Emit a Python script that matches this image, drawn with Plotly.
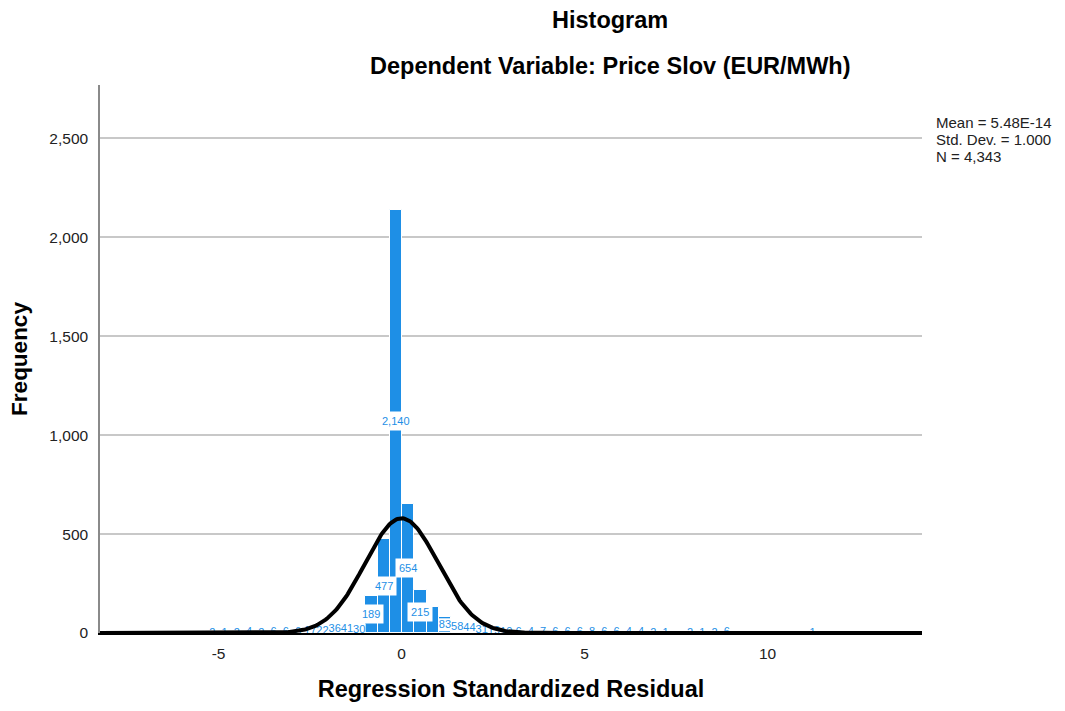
import numpy as np
import plotly.graph_objects as go

# ---- data ----
bin_index = list(range(-16, 34))
bin_width = 0.3347
first_edge = 0.014
counts = [2, 1, 2, 4, 2, 6, 6, 6, 17, 22, 36, 41, 30,
          189, 477, 2140, 654, 215, 133,
          83, 58, 44, 31, 19, 10, 6,
          4, 7, 6, 6, 6, 8, 6, 6, 4, 4, 2, 1, 0, 2, 1, 2, 6,
          0, 0, 0, 0, 0, 0, 1]
hidden_label_bins = [2]          # label overlapped by its neighbour in the original
stat_mean = 5.48e-14
stat_sd = 1.000
stat_n = 4343
x_ticks = [-5, 0, 5, 10]
x_tick_text = ["-5", "0", "5", "10"]
y_ticks = [0, 500, 1000, 1500, 2000, 2500]

centers = [first_edge + (k + 0.5) * bin_width for k in bin_index]

BLUE = "#1E8FE6"
FONT = "Liberation Sans, Arial, sans-serif"

fig = go.Figure()
fig.add_trace(go.Bar(
    x=centers, y=counts, width=bin_width,
    marker=dict(color=BLUE, line=dict(color="white", width=1)),
    hoverinfo="x+y", showlegend=False,
))

# small labels (near the axis) drawn as trace text with white boxes
small_x, small_y, small_t = [], [], []
for k, c, v in zip(bin_index, centers, counts):
    if 0 < v < 100 and k not in hidden_label_bins:
        small_x.append(c)
        small_y.append(v / 2)
        small_t.append(f"{v:,}")
fig.add_trace(go.Scatter(
    x=small_x, y=small_y, text=small_t, mode="markers+text",
    textposition="middle center",
    marker=dict(symbol="square", color="white", size=13, line=dict(width=0)),
    textfont=dict(family=FONT, size=11, color=BLUE),
    showlegend=False, hoverinfo="skip",
))

# normal curve
xs = np.linspace(-8.3, 14.3, 600)
ys = stat_n * bin_width * np.exp(-0.5 * ((xs - stat_mean) / stat_sd) ** 2) / (stat_sd * np.sqrt(2 * np.pi))
fig.add_trace(go.Scatter(x=xs, y=ys, mode="lines",
                         line=dict(color="black", width=4),
                         showlegend=False, hoverinfo="skip"))

# big labels inside bars
for k, c, v in zip(bin_index, centers, counts):
    if v >= 100 and k not in hidden_label_bins:
        fig.add_annotation(x=c, y=v / 2, text=f"{v:,}", showarrow=False,
                           bgcolor="white", borderpad=3,
                           font=dict(family=FONT, size=11, color=BLUE))

TITLE_X = (610 - 100) / 822
fig.add_annotation(xref="paper", yref="paper", x=TITLE_X, y=1.1186, yanchor="middle",
                   text="<b>Histogram</b>",
                   showarrow=False, font=dict(family=FONT, size=23.5, color="black"))
fig.add_annotation(xref="paper", yref="paper", x=TITLE_X, y=1.0347, yanchor="middle",
                   text="<b>Dependent Variable: Price Slov (EUR/MWh)</b>",
                   showarrow=False, font=dict(family=FONT, size=23.5, color="black"))
legend_lines = [f"Mean = 5.48E-14", f"Std. Dev. = {stat_sd:.3f}", f"N = {stat_n:,}"]
for i, line in enumerate(legend_lines):
    fig.add_annotation(xref="paper", yref="paper", x=1.0146, y=1 - (122 - 85 + 17 * i) / 548,
                       xanchor="left", yanchor="middle", align="left",
                       text=line, showarrow=False,
                       font=dict(family=FONT, size=15, color="#222"))

fig.update_layout(
    width=1065, height=711,
    margin=dict(l=100, r=143, t=85, b=78),
    paper_bgcolor="white", plot_bgcolor="white",
    bargap=0,
    font=dict(family=FONT, color="#333"),
    xaxis=dict(range=[-8.24, 14.22], tickvals=x_ticks, ticktext=x_tick_text,
               showgrid=False, zeroline=False,
               showline=True, linecolor="black", linewidth=2, ticks="",
               ticklabelstandoff=5,
               tickfont=dict(size=15.5, color="#222"),
               title=dict(text="<b>Regression Standardized Residual</b>",
                          font=dict(size=23.5, color="black"), standoff=20)),
    yaxis=dict(range=[0, 2770], tickvals=y_ticks, tickformat=",", showgrid=True,
               gridcolor="#c8c8c8", gridwidth=1.5, zeroline=False,
               showline=True, linecolor="#8a8a8a", linewidth=1.5, ticks="",
               ticklabelstandoff=7,
               tickfont=dict(size=15.5, color="#222"),
               title=dict(text="<b>Frequency</b>", font=dict(size=22.5, color="black"), standoff=15)),
)

fig.write_html("out.html")
